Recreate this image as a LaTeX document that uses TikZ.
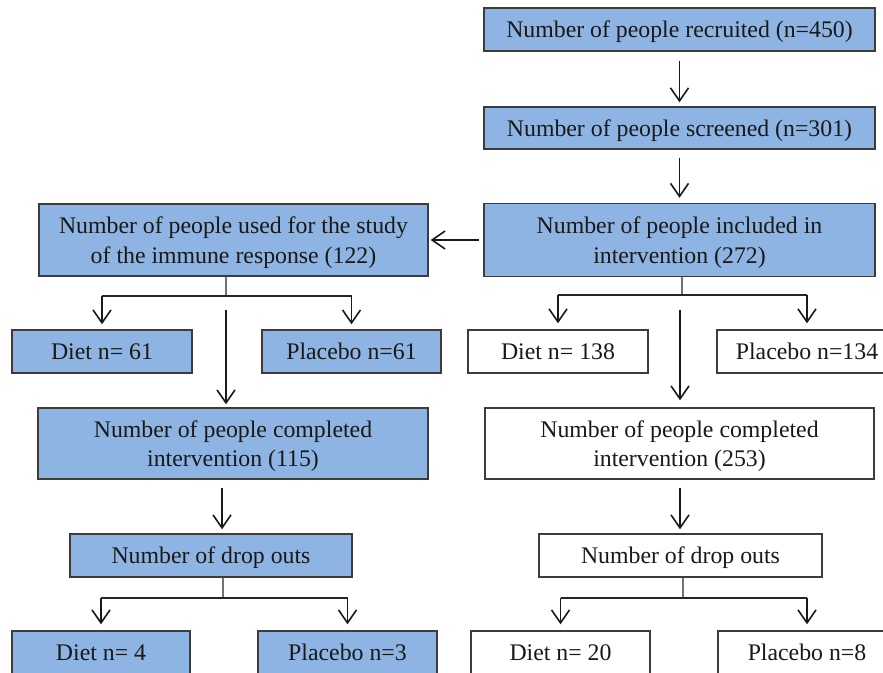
\documentclass[tikz,border=0pt]{standalone}
\usepackage{fontspec}
\setmainfont{Liberation Serif}
\usetikzlibrary{arrows.meta}
\definecolor{boxblue}{RGB}{141,180,226}
\definecolor{edge}{RGB}{60,60,60}
\begin{document}
\begin{tikzpicture}[x=1pt,y=-1pt,
  every node/.style={font=\fontsize{23.8}{29.5}\selectfont, text=black!90, text depth=0pt},
  bbox/.style={draw=edge, line width=1.4pt, fill=boxblue, inner sep=0pt, align=center},
  wbox/.style={draw=edge, line width=1.4pt, fill=white, inner sep=0pt, align=center},
  arr/.style={draw=black!90, line width=1.6pt, -{Straight Barb[length=13pt,width=18pt,line width=1.6pt]}},
  stub/.style={draw=black!55, line width=1.1pt},
  hbar/.style={draw=black!85, line width=1.4pt}]
\useasboundingbox (0,0) rectangle (883,672);

% right column top
\node[bbox, minimum width=391pt, minimum height=43pt] (rec) at (679.5,29.5) {Number of people recruited (n=450)};
\node[bbox, minimum width=391pt, minimum height=42pt] (scr) at (679.5,128) {Number of people screened (n=301)};
\node[bbox, minimum width=391pt, minimum height=73pt] (inc) at (679.5,240) {Number of people included in\\intervention (272)};
\node[bbox, minimum width=389pt, minimum height=72pt] (imm) at (233.5,240) {Number of people used for the study\\of the immune response (122)};

% randomised groups
\node[bbox, minimum width=180pt, minimum height=43pt] (d61) at (102,351.5) {Diet n= 61};
\node[bbox, minimum width=179pt, minimum height=43pt] (p61) at (351.5,351.5) {Placebo n=61};
\node[wbox, minimum width=180pt, minimum height=43pt] (d138) at (558,351.5) {Diet n= 138};
\node[wbox, minimum width=180pt, minimum height=43pt] (p134) at (807,351.5) {Placebo n=134};

% completed
\node[bbox, minimum width=390pt, minimum height=71pt] (compL) at (233,443.5) {Number of people completed\\intervention (115)};
\node[wbox, minimum width=389pt, minimum height=71pt] (compR) at (679.5,443.5) {Number of people completed\\intervention (253)};

% drop outs
\node[bbox, minimum width=282pt, minimum height=43pt] (dropL) at (211,555.5) {Number of drop outs};
\node[wbox, minimum width=283pt, minimum height=43pt] (dropR) at (680.5,555.5) {Number of drop outs};

% drop-out groups
\node[bbox, minimum width=178pt, minimum height=43pt] (d4) at (101,652.5) {Diet n= 4};
\node[bbox, minimum width=179pt, minimum height=43pt] (p3) at (347.5,652.5) {Placebo n=3};
\node[wbox, minimum width=179pt, minimum height=43pt] (d20) at (560.5,652.5) {Diet n= 20};
\node[wbox, minimum width=178pt, minimum height=43pt] (p8) at (807,652.5) {Placebo n=8};

% main vertical arrows
\draw[arr, shorten <=9pt, shorten >=4pt] (rec) -- (scr);
\draw[arr, shorten <=8pt, shorten >=5pt] (scr) -- (inc);
\draw[arr, shorten <=4pt, shorten >=2pt] (inc.west) -- (imm.east);

% branch from immune box
\coordinate (jl) at (226,296);
\draw[stub] (imm.south -| jl) -- (jl);
\draw[hbar] (d61.north |- jl) -- (p61.north |- jl);
\draw[arr, shorten >=5pt] (d61.north |- jl) -- (d61.north);
\draw[arr, shorten >=5pt] (p61.north |- jl) -- (p61.north);
\coordinate (cl) at (226,310);
\draw[arr, shorten >=3pt] (cl) -- (cl |- compL.north);

% branch from included box
\coordinate (jr) at (682,295);
\draw[stub] (inc.south -| jr) -- (jr);
\draw[hbar] (d138.north |- jr) -- (p134.north |- jr);
\draw[arr, shorten >=6pt] (d138.north |- jr) -- (d138.north);
\draw[arr, shorten >=6pt] (p134.north |- jr) -- (p134.north);
\coordinate (cr) at (680,310);
\draw[arr, shorten >=7pt] (cr) -- (cr |- compR.north);

% completed -> drop outs
\coordinate (al) at (222,0);
\draw[arr, shorten <=8pt, shorten >=4pt] (compL.south -| al) -- (dropL.north -| al);
\coordinate (ar) at (680,0);
\draw[arr, shorten <=8pt, shorten >=4pt] (compR.south -| ar) -- (dropR.north -| ar);

% drop out branches
\coordinate (kl) at (223,598);
\draw[stub] (dropL.south -| kl) -- (kl);
\draw[hbar] (d4.north |- kl) -- (p3.north |- kl);
\draw[arr, shorten >=6pt] (d4.north |- kl) -- (d4.north);
\draw[arr, shorten >=6pt] (p3.north |- kl) -- (p3.north);
\coordinate (kr) at (683,598);
\draw[stub] (dropR.south -| kr) -- (kr);
\draw[hbar] (d20.north |- kr) -- (p8.north |- kr);
\draw[arr, shorten >=6pt] (d20.north |- kr) -- (d20.north);
\draw[arr, shorten >=6pt] (p8.north |- kr) -- (p8.north);
\end{tikzpicture}
\end{document}
